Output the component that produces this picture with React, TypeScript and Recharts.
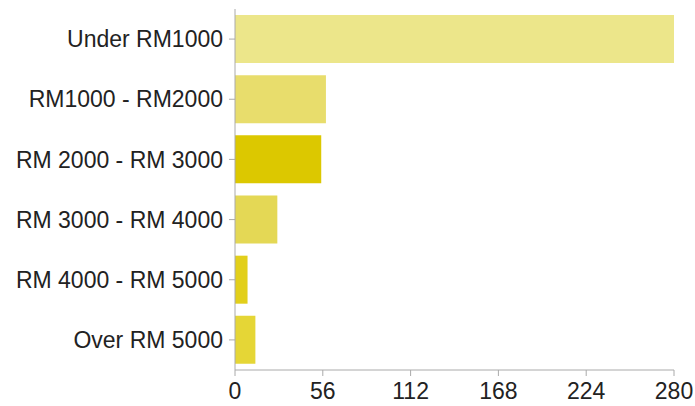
import React from 'react';
import { BarChart, Bar, XAxis, YAxis, Cell } from 'recharts';

const categories = ['Under RM1000', 'RM1000 - RM2000', 'RM 2000 - RM 3000', 'RM 3000 - RM 4000', 'RM 4000 - RM 5000', 'Over RM 5000'];
const counts = [280, 58, 55, 27, 8, 13];
const barColors = ['#ece68a', '#e8dd6c', '#dcc800', '#e4d855', '#e2cf1a', '#e5d636'];
const xTicks = [0, 56, 112, 168, 224, 280];

const data = categories.map((name, i) => ({ name, value: counts[i] }));

const tickStyle = { fontSize: 23, fill: '#222', fontFamily: 'Liberation Sans, Arial, sans-serif' };

export default function App() {
    return (
        <div style={{ width: 695, height: 406 }}>
            <style>{`body { margin: 0; }`}</style>
            <BarChart
                width={695}
                height={406}
                data={data}
                layout="vertical"
                margin={{ top: 9, right: 21, bottom: 0, left: 0 }}
                barCategoryGap="10%"
            >
                <XAxis
                    type="number"
                    domain={[0, 280]}
                    ticks={xTicks}
                    height={36}
                    stroke="#aaa"
                    tickSize={6}
                    tickMargin={7}
                    tick={tickStyle}
                    interval={0}
                />
                <YAxis
                    type="category"
                    dataKey="name"
                    width={235}
                    stroke="#aaa"
                    tickSize={6}
                    tickMargin={6}
                    tick={tickStyle}
                    interval={0}
                />
                <Bar dataKey="value" isAnimationActive={false}>
                    {data.map((d, i) => (
                        <Cell key={d.name} fill={barColors[i]} />
                    ))}
                </Bar>
            </BarChart>
        </div>
    );
}
